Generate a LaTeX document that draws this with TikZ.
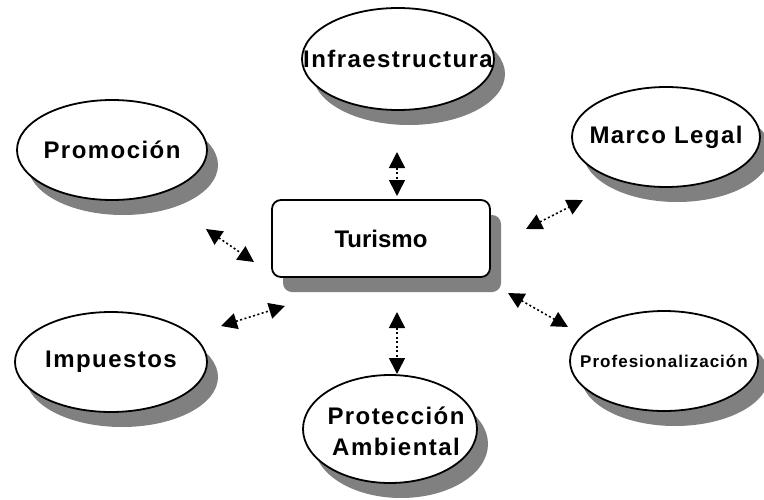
\documentclass[tikz,border=0pt]{standalone}
\usepackage{fontspec}
\setmainfont{Liberation Sans}
\newfontfamily\widefont[LetterSpace=6]{Liberation Sans}
\usetikzlibrary{shapes.geometric,arrows.meta,shadows}
\tikzset{
  shade/.style={drop shadow={shadow xshift=11pt, shadow yshift=-15pt, fill=black!50, opacity=1}},
  bubble/.style={ellipse, draw=black, line width=1.8pt, fill=white, inner sep=0pt, shade},
  txt/.style={font=\widefont\bfseries\fontsize{24}{31}\selectfont, align=center, inner sep=0pt},
  boxtxt/.style={font=\bfseries\fontsize{24}{31}\selectfont, inner sep=0pt},
  small/.style={font=\widefont\bfseries\fontsize{17}{20}\selectfont, inner sep=0pt},
  link/.style={line width=1.6pt, dash pattern=on 2pt off 2.5pt, {Triangle[length=16pt,width=16pt]}-{Triangle[length=16pt,width=16pt]}},
}
\begin{document}
\begin{tikzpicture}[x=1pt,y=-1pt]
\useasboundingbox (0,0) rectangle (764,499);
% central box
\node[draw=black, line width=1.8pt, rounded corners=9pt, fill=white, shade,
      minimum width=218pt, minimum height=77pt, inner sep=0pt] (tur) at (381,238.5) {};
\node[boxtxt] (turt) at (tur.center) {Turismo};
% bubbles
\node[bubble, minimum width=192pt, minimum height=102pt] (inf) at (398,59) {};
\node[txt] (inft) at (inf.center) {Infraestructura};
\node[bubble, minimum width=190pt, minimum height=100pt] (pro) at (112,150) {};
\node[txt] (prot) at (pro.center) {Promoción};
\node[bubble, minimum width=188pt, minimum height=100pt] (mar) at (666,137) {};
\node[txt] (mart) at (mar.center) {Marco Legal};
\node[bubble, minimum width=192pt, minimum height=100pt] (imp) at (111,362) {};
\node[txt] (impt) at (imp.center) {Impuestos};
\node[bubble, minimum width=188pt, minimum height=100pt] (prf) at (664,361) {};
\node[small] (prft) at (prf.center) {Profesionalización};
\node[bubble, minimum width=174pt, minimum height=108pt] (amb) at (390,429) {};
\node[txt] (ambt) at ([xshift=6pt,yshift=-2pt]amb.center) {Protección\\Ambiental};
% connector ends
\coordinate (a1) at (397,152); \coordinate (b1) at (397,196);
\coordinate (a2) at (526,229); \coordinate (b2) at (583,200);
\coordinate (a3) at (508,293); \coordinate (b3) at (568,327);
\coordinate (a4) at (206,229); \coordinate (b4) at (254,262);
\coordinate (a5) at (221,326); \coordinate (b5) at (285,306);
\coordinate (a6) at (397,312); \coordinate (b6) at (397,374);
\draw[link] (a1) -- (b1);
\draw[link] (a2) -- (b2);
\draw[link] (a3) -- (b3);
\draw[link] (a4) -- (b4);
\draw[link] (a5) -- (b5);
\draw[link] (a6) -- (b6);
\end{tikzpicture}
\end{document}
